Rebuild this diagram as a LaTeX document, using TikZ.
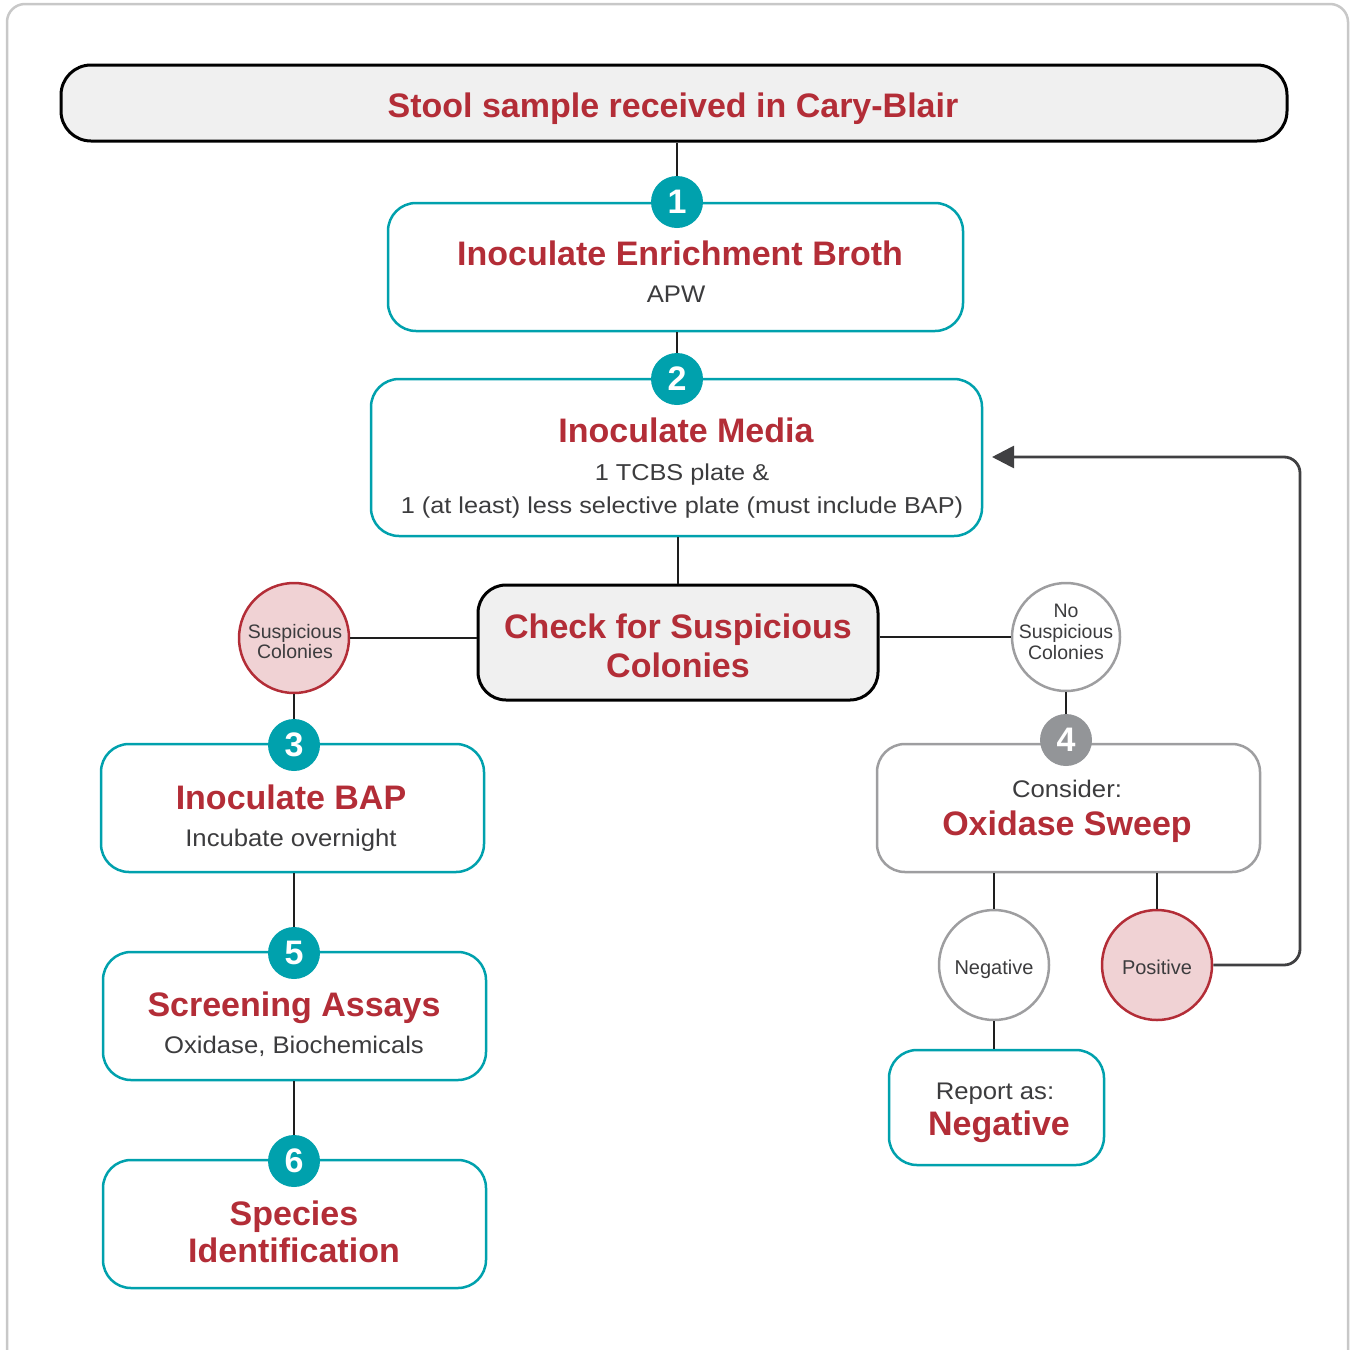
\documentclass[tikz,border=0pt]{standalone}
\usepackage{fontspec}
\setmainfont{Liberation Sans}
\newfontfamily\widefont[FakeStretch=1.07]{Liberation Sans}
\newfontfamily\widerfont[FakeStretch=1.1]{Liberation Sans}
\usetikzlibrary{arrows.meta}
\definecolor{myred}{RGB}{179,45,55}
\definecolor{teal2}{RGB}{0,161,173}
\definecolor{bodygray}{RGB}{60,60,62}
\definecolor{ltfill}{RGB}{240,240,240}
\definecolor{pinkfill}{RGB}{240,210,212}
\definecolor{circgray}{RGB}{158,158,160}
\definecolor{badgegray}{RGB}{147,149,152}
\definecolor{framegray}{RGB}{200,200,200}
\definecolor{linedark}{RGB}{30,30,30}
\definecolor{arrowgray}{RGB}{64,64,66}
\begin{document}
\begin{tikzpicture}[x=1pt,y=-1pt,
  box/.style={rectangle, rounded corners=28pt, line width=2.5pt, fill=white, inner sep=0pt},
  tealbox/.style={box, draw=teal2},
  graybox/.style={box, draw=circgray},
  darkbox/.style={box, draw=black, fill=ltfill, line width=3pt},
  badge/.style={circle, fill=teal2, text=white, font=\bfseries\fontsize{34}{34}\selectfont, minimum size=52pt, inner sep=0pt},
  title/.style={anchor=base, inner sep=0pt, text=myred, font=\bfseries\fontsize{34}{40}\selectfont},
  body/.style={anchor=base, inner sep=0pt, text=bodygray, font=\widefont\fontsize{24}{28}\selectfont},
  smalltxt/.style={anchor=base, inner sep=0pt, text=bodygray, font=\fontsize{19.5}{21}\selectfont},
  conn/.style={draw=linedark, line width=2.8pt},
  bubble/.style={circle, minimum size=110pt, inner sep=0pt, line width=2.5pt},
  redbubble/.style={bubble, draw=myred, fill=pinkfill},
  graybubble/.style={bubble, draw=circgray, fill=white},
  arrowline/.style={draw=arrowgray, line width=2.8pt, rounded corners=16pt, -{Triangle[length=22pt,width=22pt]}}
]
\useasboundingbox (0,0) rectangle (1351,1349);
% outer frame
\draw[framegray, line width=2.5pt, rounded corners=18pt] (7,1360) -- (7,4) -- (1348,4) -- (1348,1360);

% boxes
\node[darkbox, minimum width=1226pt, minimum height=76pt, rounded corners=30pt] (top) at (674,103) {};
\node[tealbox, minimum width=575pt, minimum height=128pt] (b1) at (675.5,267) {};
\node[tealbox, minimum width=611pt, minimum height=157pt] (b2) at (676.5,457.5) {};
\node[darkbox, minimum width=400pt, minimum height=115pt] (check) at (678,642.5) {};
\node[tealbox, minimum width=383pt, minimum height=128pt] (b3) at (292.5,808) {};
\node[tealbox, minimum width=383pt, minimum height=128pt] (b5) at (294.5,1016) {};
\node[tealbox, minimum width=383pt, minimum height=128pt] (b6) at (294.5,1224) {};
\node[graybox, minimum width=383pt, minimum height=128pt] (b4) at (1068.5,808) {};
\node[tealbox, minimum width=215pt, minimum height=115pt] (rep) at (996.5,1107.5) {};

% bubbles
\node[redbubble] (sus) at (294,638) {};
\node[graybubble, minimum size=108pt] (nosus) at (1066,637) {};
\node[graybubble] (neg) at (994,965) {};
\node[redbubble] (pos) at (1157,965) {};

% badges
\node[badge] (n1) at (677,202) {1};
\node[badge] (n2) at (677,379) {2};
\node[badge] (n3) at (294,745) {3};
\node[badge, fill=badgegray] (n4) at (1066,740) {4};
\node[badge] (n5) at (294,953) {5};
\node[badge] (n6) at (294,1161) {6};

% connectors
\draw[conn] (n1.north |- top.south) -- (n1.north);
\draw[conn] (n2.north |- b1.south) -- (n2.north);
\draw[conn] (check.north |- b2.south) -- (check.north);
\draw[conn] (sus.east) -- (sus.east -| check.west);
\draw[conn] (nosus.west -| check.east) -- (nosus.west);
\draw[conn] (sus.south) -- (n3.north);
\draw[conn] (n5.north |- b3.south) -- (n5.north);
\draw[conn] (n6.north |- b5.south) -- (n6.north);
\draw[conn] (nosus.south) -- (n4.north);
\draw[conn] (neg.north |- b4.south) -- (neg.north);
\draw[conn] (pos.north |- b4.south) -- (pos.north);
\draw[conn] (neg.south) -- (neg.south |- rep.north);

% feedback arrow
\coordinate (rail) at (1300,457);
\coordinate (arrtip) at (992,457);
\draw[arrowline] (pos.east) -| (rail) -- (arrtip);

% texts
\node[title] (ttop) at (673,117) {Stool sample received in Cary-Blair};
\node[title] (t1) at (680,265) {Inoculate Enrichment Broth};
\node[body] (s1) at (676,302) {APW};
\node[title] (t2) at (686,442) {Inoculate Media};
\node[body, font=\widerfont\fontsize{23}{26}\selectfont] (s2a) at (682,480) {1 TCBS plate \&};
\node[body, font=\widerfont\fontsize{23}{26}\selectfont] (s2b) at (682,513) {1 (at least) less selective plate (must include BAP)};
\node[title] (tc1) at (678,638) {Check for Suspicious};
\node[title] (tc2) at (678,677) {Colonies};
\node[smalltxt] (su1) at (295,638) {Suspicious};
\node[smalltxt] (su2) at (295,658) {Colonies};
\node[smalltxt] (ns1) at (1066,617) {No};
\node[smalltxt] (ns2) at (1066,638) {Suspicious};
\node[smalltxt] (ns3) at (1066,659) {Colonies};
\node[title] (t3) at (291,809) {Inoculate BAP};
\node[body] (s3) at (291,846) {Incubate overnight};
\node[body] (s4) at (1067,797) {Consider:};
\node[title] (t4) at (1067,835) {Oxidase Sweep};
\node[title] (t5) at (294,1016) {Screening Assays};
\node[body] (s5) at (294,1053) {Oxidase, Biochemicals};
\node[title] (t6a) at (294,1225) {Species};
\node[title] (t6b) at (294,1262) {Identification};
\node[smalltxt, font=\fontsize{20}{22}\selectfont] (tneg) at (994,974) {Negative};
\node[smalltxt, font=\fontsize{20}{22}\selectfont] (tpos) at (1157,974) {Positive};
\node[body] (r1) at (995,1099) {Report as:};
\node[title] (r2) at (999,1135) {Negative};
\end{tikzpicture}
\end{document}
